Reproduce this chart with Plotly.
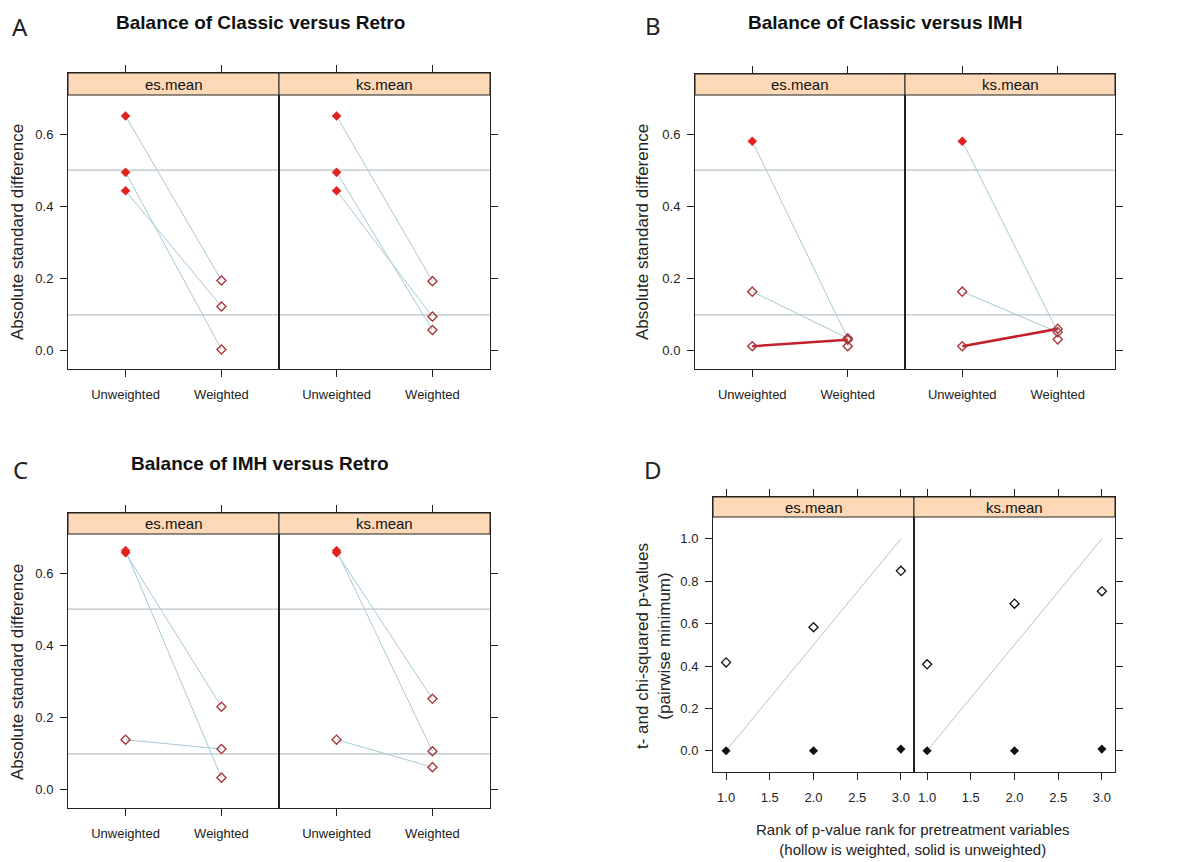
import plotly.graph_objects as go

W, H = 1203, 862

# ---------------- data ----------------
categories = ["Unweighted", "Weighted"]
facets = ["es.mean", "ks.mean"]
ref_lines = [0.1, 0.5]
y_ticks_abs = [0.0, 0.2, 0.4, 0.6]

# Panel A : Classic versus Retro
a_es_unw = [0.650, 0.494, 0.443]
a_es_unw_sig = [1, 1, 1]
a_es_w = [0.195, 0.004, 0.123]
a_es_links = [(0, 0), (1, 1), (2, 2)]
a_ks_unw = [0.650, 0.494, 0.443]
a_ks_unw_sig = [1, 1, 1]
a_ks_w = [0.193, 0.058, 0.095]
a_ks_links = [(0, 0), (1, 1), (2, 2)]

# Panel B : Classic versus IMH
b_es_unw = [0.580, 0.164, 0.013]
b_es_unw_sig = [1, 0, 0]
b_es_w = [0.035, 0.013, 0.031]
b_es_links = [(0, 0), (1, 0), (2, 2)]
b_ks_unw = [0.580, 0.164, 0.013]
b_ks_unw_sig = [1, 0, 0]
b_ks_w = [0.061, 0.052, 0.032]
b_ks_links = [(0, 1), (1, 1), (2, 0)]

# Panel C : IMH versus Retro
c_es_unw = [0.656, 0.662, 0.139]
c_es_unw_sig = [1, 1, 0]
c_es_w = [0.230, 0.034, 0.113]
c_es_links = [(0, 0), (1, 1), (2, 2)]
c_ks_unw = [0.656, 0.662, 0.139]
c_ks_unw_sig = [1, 1, 0]
c_ks_w = [0.252, 0.107, 0.063]
c_ks_links = [(0, 0), (1, 1), (2, 2)]

# Panel D : p-value ranks
d_rank = [1, 2, 3]
d_es_weighted = [0.417, 0.583, 0.849]
d_es_unweighted = [0.0, 0.0, 0.008]
d_ks_weighted = [0.408, 0.694, 0.753]
d_ks_unweighted = [0.0, 0.0, 0.008]
d_xticks = [1.0, 1.5, 2.0, 2.5, 3.0]
d_yticks = [0.0, 0.2, 0.4, 0.6, 0.8, 1.0]

titles = ["Balance of Classic versus Retro", "Balance of Classic versus IMH",
          "Balance of IMH versus Retro"]
letters = ["A", "B", "C", "D"]

# ---------------- style ----------------
FONT = "Liberation Sans"
STRIP = "#FDD9B7"
BLUE = "#A8C9D6"
GREY = "#B9C3CA"
RED_FILL = "#E1231F"
RED_OPEN = "#A8393C"
RED_LINE = "#C3202B"

fig = go.Figure()
layout = {}
shapes = []
annotations = []
count = [0]


def px(x):
    return x / W


def py(y):
    return 1 - y / H


def add_facet(x0, x1, strip_top, strip_bot, bottom, yrange, xrange, xtv, xtt,
              ytv, ytt, left, label):
    count[0] += 1
    n = count[0]
    sfx = "" if n == 1 else str(n)
    ylo, yhi = yrange
    per = (yhi - ylo) / (bottom - strip_bot)
    ytop = yhi + (strip_bot - strip_top) * per
    layout["xaxis" + sfx] = dict(
        domain=[px(x0), px(x1)], range=xrange, anchor="y" + sfx,
        tickvals=xtv, ticktext=xtt, ticks="outside", ticklen=7, tickwidth=1,
        tickcolor="#222", showline=True, linecolor="#222", linewidth=1,
        mirror="ticks", showgrid=False, zeroline=False, fixedrange=True,
        ticklabelstandoff=6,
        tickfont=dict(family=FONT, size=13, color="#222"))
    layout["yaxis" + sfx] = dict(
        domain=[py(bottom), py(strip_top)], range=[ylo, ytop], anchor="x" + sfx,
        side="left" if left else "right", tickvals=ytv, ticktext=ytt,
        showticklabels=left, ticks="outside", ticklen=7, tickwidth=1,
        tickcolor="#222", showline=True, linecolor="#222", linewidth=1,
        mirror=True, showgrid=False, zeroline=False, fixedrange=True,
        ticklabelstandoff=4,
        tickfont=dict(family=FONT, size=13, color="#222"))
    shapes.append(dict(type="rect", xref="paper", yref="paper",
                       x0=px(x0), x1=px(x1), y0=py(strip_bot), y1=py(strip_top),
                       fillcolor=STRIP, line=dict(color="#222", width=1), layer="above"))
    annotations.append(dict(x=(px(x0) + px(x1)) / 2, y=(py(strip_bot) + py(strip_top)) / 2,
                            xref="paper", yref="paper", text=label, showarrow=False,
                            font=dict(family=FONT, size=15, color="#111"),
                            xanchor="center", yanchor="middle"))
    return "x" + sfx, "y" + sfx


def balance_facet(x0, x1, strip_top, strip_bot, bottom, left, label, unw, sig, w, links):
    xa, ya = add_facet(x0, x1, strip_top, strip_bot, bottom, (-0.05, 0.708), [0.4, 2.6],
                       [1, 2], categories, y_ticks_abs,
                       ["%.1f" % v for v in y_ticks_abs], left, label)
    for v in ref_lines:
        shapes.append(dict(type="line", xref=xa + " domain", yref=ya, x0=0, x1=1,
                           y0=v, y1=v, line=dict(color=GREY, width=1.2), layer="below"))
    for i, j in links:
        up = w[j] > unw[i]
        fig.add_trace(go.Scatter(x=[1, 2], y=[unw[i], w[j]], xaxis=xa, yaxis=ya,
                                 mode="lines", line=dict(color=RED_LINE if up else BLUE,
                                                         width=2.6 if up else 1),
                                 showlegend=False, hoverinfo="skip"))
    fx = [1 for s in sig if s]
    fy = [u for u, s in zip(unw, sig) if s]
    ox = [1 for s in sig if not s] + [2] * len(w)
    oy = [u for u, s in zip(unw, sig) if not s] + list(w)
    fig.add_trace(go.Scatter(x=ox, y=oy, xaxis=xa, yaxis=ya, mode="markers",
                             marker=dict(symbol="diamond-open", size=7, color=RED_OPEN,
                                         line=dict(width=1.4, color=RED_OPEN)),
                             showlegend=False))
    fig.add_trace(go.Scatter(x=fx, y=fy, xaxis=xa, yaxis=ya, mode="markers",
                             marker=dict(symbol="diamond", size=7, color=RED_FILL,
                                         line=dict(width=0.5, color=RED_FILL)),
                             showlegend=False))


# geometry of each panel: left, divider, right, strip top, strip bottom, bottom
geo = {
    "A": (68, 279, 490, 73, 95, 369),
    "B": (695, 905, 1115, 74, 95, 369),
    "C": (68, 279, 490, 513, 534, 808),
    "D": (713, 914, 1115, 497, 517, 772),
}

data_abc = [
    ("A", (a_es_unw, a_es_unw_sig, a_es_w, a_es_links), (a_ks_unw, a_ks_unw_sig, a_ks_w, a_ks_links)),
    ("B", (b_es_unw, b_es_unw_sig, b_es_w, b_es_links), (b_ks_unw, b_ks_unw_sig, b_ks_w, b_ks_links)),
    ("C", (c_es_unw, c_es_unw_sig, c_es_w, c_es_links), (c_ks_unw, c_ks_unw_sig, c_ks_w, c_ks_links)),
]

for key, es, ks in data_abc:
    l, d, r, st, sb, b = geo[key]
    balance_facet(l, d, st, sb, b, True, facets[0], *es)
    balance_facet(d, r, st, sb, b, False, facets[1], *ks)

# Panel D
l, d, r, st, sb, b = geo["D"]
for (x0, x1, left, label, wv, uv) in [(l, d, True, facets[0], d_es_weighted, d_es_unweighted),
                                      (d, r, False, facets[1], d_ks_weighted, d_ks_unweighted)]:
    xa, ya = add_facet(x0, x1, st, sb, b, (-0.1, 1.103), [0.85, 3.15], d_xticks,
                       ["%.1f" % v for v in d_xticks], d_yticks,
                       ["%.1f" % v for v in d_yticks], left, label)
    nmax = max(d_rank)
    fig.add_trace(go.Scatter(x=[min(d_rank), nmax], y=[0, 1], xaxis=xa, yaxis=ya,
                             mode="lines", line=dict(color=BLUE, width=1),
                             showlegend=False, hoverinfo="skip"))
    fig.add_trace(go.Scatter(x=d_rank, y=wv, xaxis=xa, yaxis=ya, mode="markers",
                             marker=dict(symbol="diamond-open", size=7, color="#111",
                                         line=dict(width=1.3, color="#111")),
                             showlegend=False))
    fig.add_trace(go.Scatter(x=d_rank, y=uv, xaxis=xa, yaxis=ya, mode="markers",
                             marker=dict(symbol="diamond", size=7, color="#111"),
                             showlegend=False))

# titles, letters, axis labels
title_pos = [(260, 23), (885, 23), (260, 463)]
for t, (tx, ty) in zip(titles, title_pos):
    annotations.append(dict(x=px(tx), y=py(ty), xref="paper", yref="paper", text="<b>%s</b>" % t,
                            showarrow=False, font=dict(family=FONT, size=19, color="#111"),
                            xanchor="center", yanchor="middle"))
letter_pos = [(20, 27), (653, 25), (20, 469), (653, 470)]
for t, (tx, ty) in zip(letters, letter_pos):
    annotations.append(dict(x=px(tx), y=py(ty), xref="paper", yref="paper", text=t,
                            showarrow=False, font=dict(family="Noto Sans", size=24, color="#222"),
                            xanchor="center", yanchor="middle"))
for (tx, ty) in [(17, 232), (642, 232), (17, 672)]:
    annotations.append(dict(x=px(tx), y=py(ty), xref="paper", yref="paper",
                            text="Absolute standard difference", textangle=-90,
                            showarrow=False, font=dict(family=FONT, size=17, color="#222"),
                            xanchor="center", yanchor="middle"))
annotations.append(dict(x=px(653), y=py(646), xref="paper", yref="paper",
                        text="t- and chi-squared p-values<br>(pairwise minimum)", textangle=-90,
                        showarrow=False, font=dict(family=FONT, size=17, color="#222"),
                        xanchor="center", yanchor="middle"))
annotations.append(dict(x=px(912), y=py(839), xref="paper", yref="paper",
                        text="Rank of p-value rank for pretreatment variables<br>(hollow is weighted, solid is unweighted)",
                        showarrow=False, font=dict(family=FONT, size=15, color="#222"),
                        xanchor="center", yanchor="middle"))

fig.update_layout(width=W, height=H, margin=dict(l=0, r=0, t=0, b=0),
                  paper_bgcolor="white", plot_bgcolor="white", showlegend=False,
                  shapes=shapes, annotations=annotations, **layout)
fig.write_html("out.html")
